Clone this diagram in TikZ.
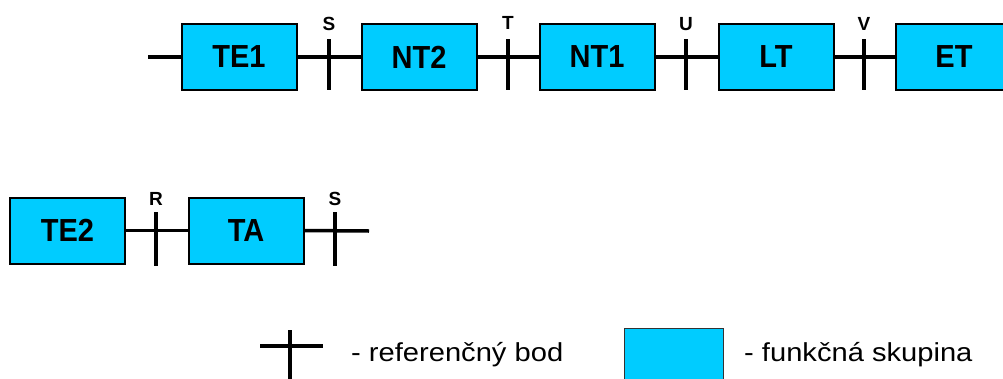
\documentclass[tikz,border=0pt]{standalone}
\usepackage{fontspec}
\setmainfont{Liberation Sans}
\definecolor{fgcyan}{RGB}{0,204,255}
\tikzset{
  fgbox/.style={draw=black, line width=2pt, fill=fgcyan, minimum width=115pt, minimum height=66pt, inner sep=0pt, font=\fontsize{29}{29}\selectfont\bfseries},
  wire/.style={line width=3.5pt},
  tick/.style={line width=4pt},
  ticklabel/.style={inner sep=0pt, font=\fontsize{19}{19}\selectfont\bfseries},
  legendtext/.style={inner sep=0pt, anchor=base west, font=\fontsize{26}{26}\selectfont}
}
\newcommand{\boxtxt}[1]{\scalebox{1}[1.1]{#1}}
\newcommand{\legtxt}[1]{\scalebox{1.12}[1]{#1}}
\begin{document}
\begin{tikzpicture}[x=1pt,y=-1pt]
\useasboundingbox (0,0) rectangle (1003,378);
\clip (0,0) rectangle (1003,378);
% top row
\node[fgbox] (TE1) at (239,57) {\boxtxt{TE1}};
\node[fgbox] (NT2) at (419,57) {\boxtxt{NT2}};
\node[fgbox] (NT1) at (597,57) {\boxtxt{NT1}};
\node[fgbox] (LT)  at (776,57) {\boxtxt{LT}};
\node[fgbox,minimum width=116pt] (ET)  at (954,57) {\boxtxt{ET}};
\coordinate (in1) at (148,57);
\draw[wire] (in1) -- (TE1.west);
\draw[wire] (TE1.east) -- (NT2.west);
\draw[wire] (NT2.east) -- (NT1.west);
\draw[wire] (NT1.east) -- (LT.west);
\draw[wire] (LT.east) -- (ET.west);
% reference points top
\coordinate (St) at (329,39); \coordinate (Sb) at (329,90);
\coordinate (Tt) at (508,39); \coordinate (Tb) at (508,90);
\coordinate (Ut) at (686,39); \coordinate (Ub) at (686,90);
\coordinate (Vt) at (864,39); \coordinate (Vb) at (864,90);
\draw[tick] (St) -- (Sb);
\draw[tick] (Tt) -- (Tb);
\draw[tick] (Ut) -- (Ub);
\draw[tick] (Vt) -- (Vb);
\node[ticklabel] (lS) at (329,24) {S};
\node[ticklabel] (lT) at (508,23) {T};
\node[ticklabel] (lU) at (686,24) {U};
\node[ticklabel] (lV) at (864,24) {V};
% bottom row
\node[fgbox] (TE2) at (67.5,230.5) {\boxtxt{TE2}};
\node[fgbox] (TA)  at (246,230.5) {\boxtxt{TA}};
\coordinate (out2) at (369,231);
\draw[wire] (TE2.east) -- (TA.west);
\draw[wire] (TA.east) -- (out2);
\coordinate (Rt) at (156,212); \coordinate (Rb) at (156,266);
\coordinate (S2t) at (335,212); \coordinate (S2b) at (335,266);
\draw[tick] (Rt) -- (Rb);
\draw[tick] (S2t) -- (S2b);
\node[ticklabel] (lR) at (156,199) {R};
\node[ticklabel] (lS2) at (335,199) {S};
% legend
\coordinate (ch1) at (260,346); \coordinate (ch2) at (323,346);
\coordinate (cv1) at (290,330); \coordinate (cv2) at (290,380);
\draw[line width=3.5pt] (ch1) -- (ch2);
\draw[line width=4pt] (cv1) -- (cv2);
\node[legendtext] (lg1) at (351,361) {\legtxt{- referenčný bod}};
\node[draw=black!80, line width=1pt, fill=fgcyan, minimum width=99pt, minimum height=60pt, inner sep=0pt, anchor=north west] (lgbox) at (624,328) {};
\node[legendtext] (lg2) at (744,361) {\legtxt{- funkčná skupina}};
\end{tikzpicture}
\end{document}
